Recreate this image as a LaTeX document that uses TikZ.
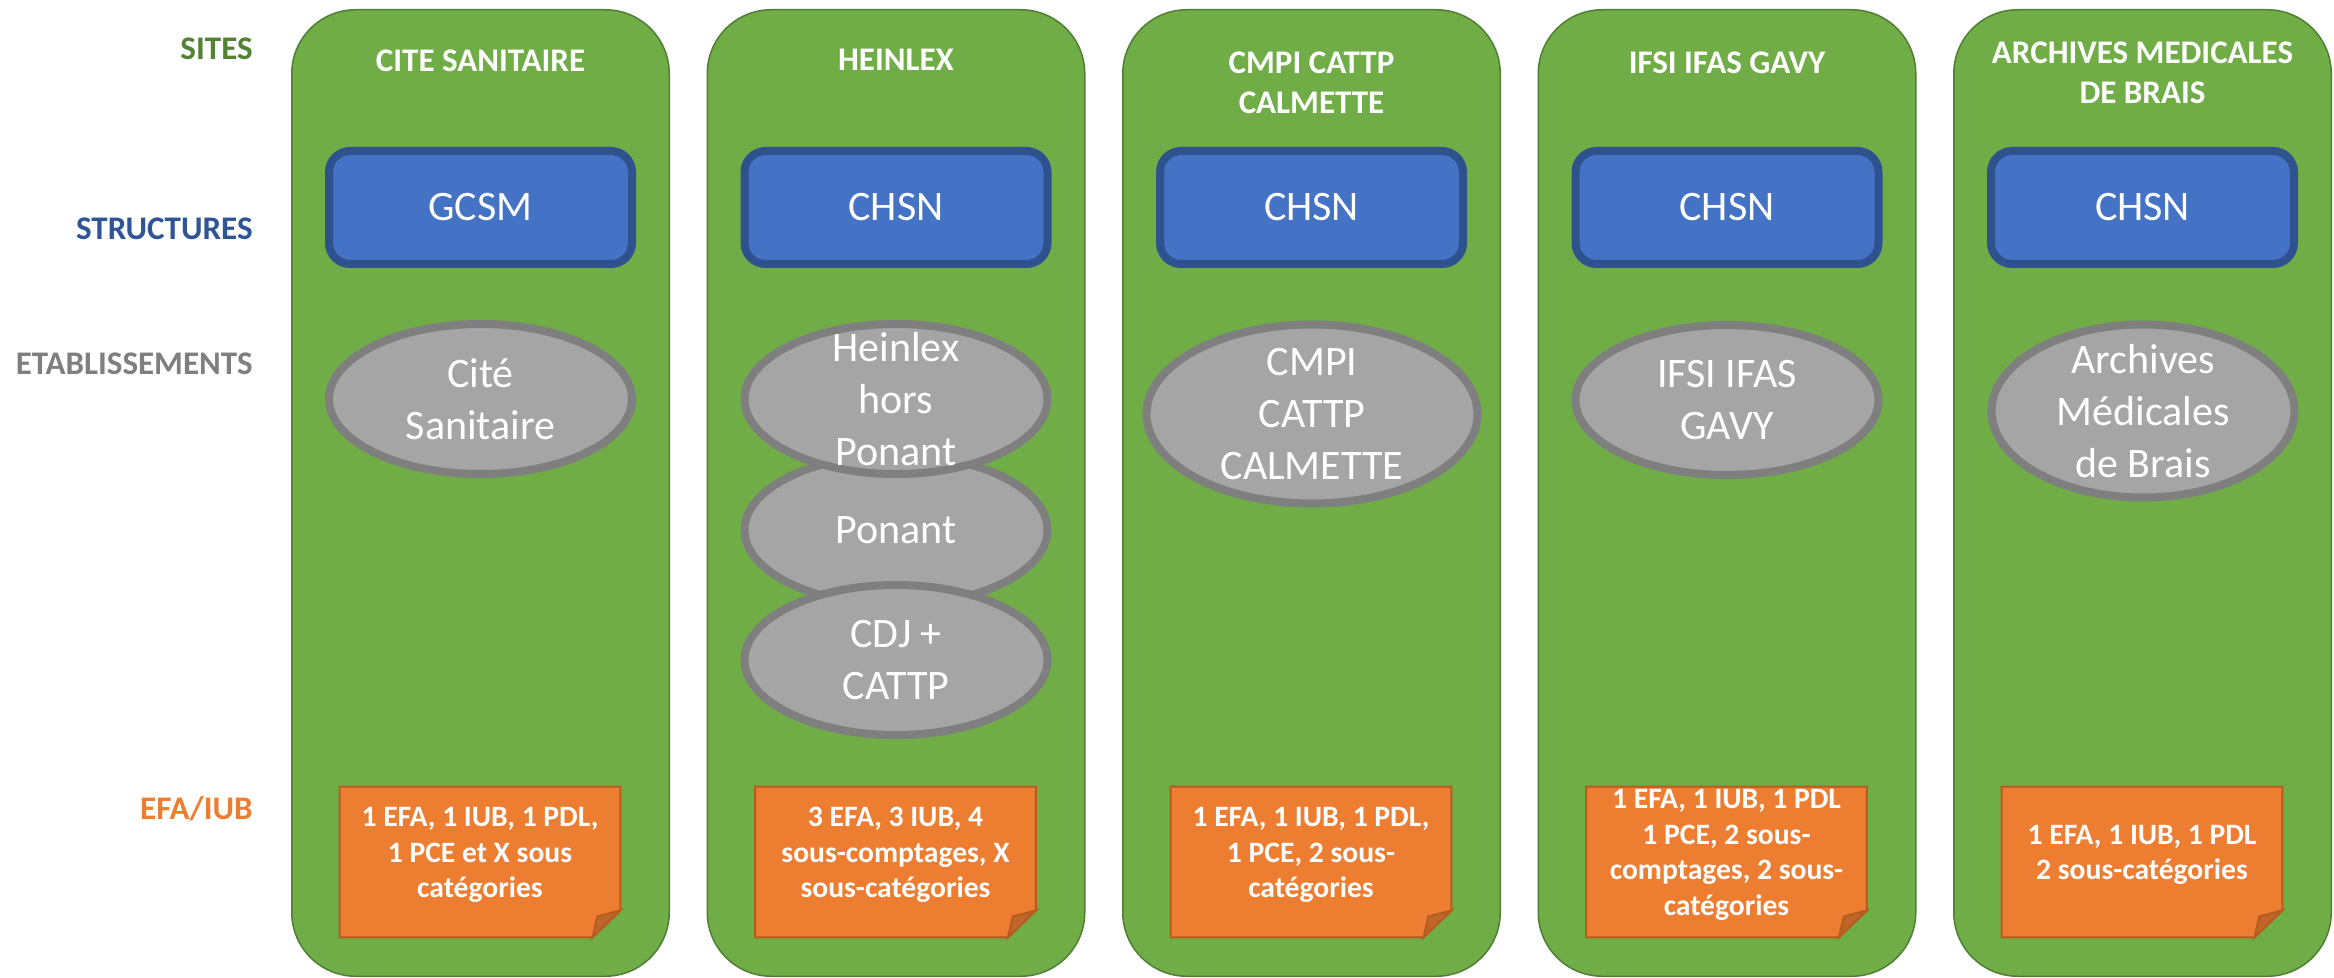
\documentclass[tikz,border=0pt]{standalone}
\usepackage{fontspec}
\setmainfont{Carlito}
\usetikzlibrary{shapes.geometric}

\definecolor{sitegreen}{HTML}{70AD47}
\definecolor{siteline}{HTML}{507E32}
\definecolor{sitelabel}{HTML}{548235}
\definecolor{structblue}{HTML}{4472C4}
\definecolor{structline}{HTML}{2F528F}
\definecolor{structlabel}{HTML}{2F5597}
\definecolor{etabgray}{HTML}{A5A5A5}
\definecolor{etabline}{HTML}{7F7F7F}
\definecolor{efaorange}{HTML}{ED7D31}
\definecolor{efaline}{HTML}{B85B1E}
\definecolor{efafold}{HTML}{C0652A}

\tikzset{
    rowlabel/.style={anchor=base east, inner sep=0pt, font=\fontsize{16.5}{20}\selectfont\bfseries},
    sitecol/.style={fill=sitegreen, draw=siteline, line width=0.75pt, rounded corners=32pt,
        minimum width=188.75pt, minimum height=483.25pt, inner sep=0pt},
    sitetitle/.style={anchor=north, inner sep=0pt, align=center, text=white,
        font=\fontsize{16.5}{20}\selectfont\bfseries},
    structbox/.style={fill=structblue, draw=structline, line width=4pt, rounded corners=10.5pt,
        minimum width=151.5pt, minimum height=56.5pt, text=white, font=\fontsize{21}{26}\selectfont},
    etab/.style={ellipse, fill=etabgray, draw=etabline, line width=4pt,
        minimum width=151.5pt, minimum height=75pt, inner sep=0pt},
    etabtext/.style={align=center, text=white, inner sep=0pt, font=\fontsize{21}{26}\selectfont},
    efabox/.style={minimum width=140pt, minimum height=75pt, inner sep=0pt},
    efanote/.style={fill=efaorange, draw=efaline, line width=1pt, line join=miter},
    efatext/.style={align=center, text=white, inner sep=0pt, font=\fontsize{14.8}{17.75}\selectfont\bfseries},
}

\begin{document}
\begin{tikzpicture}[x=0.5pt, y=-0.5pt]
    \useasboundingbox (0,0) rectangle (2334,978);

    % Row labels
    \node[rowlabel, text=sitelabel] (lsites) at (253,60) {SITES};
    \node[rowlabel, text=structlabel] (lstruct) at (253,240) {STRUCTURES};
    \node[rowlabel, text=etabline] (letab) at (253,375) {ETABLISSEMENTS};
    \node[rowlabel, text=efaorange] (lefa) at (253,819) {EFA/IUB};

    % Columns, structures and EFA/IUB notes
    \foreach \i/\struct/\efa in {
        1/GCSM/{1 EFA, 1 IUB, 1 PDL,\\1 PCE et X sous\\catégories},
        2/CHSN/{3 EFA, 3 IUB, 4\\sous-comptages, X\\sous-catégories},
        3/CHSN/{1 EFA, 1 IUB, 1 PDL,\\1 PCE, 2 sous-\\catégories},
        4/CHSN/{1 EFA, 1 IUB, 1 PDL\\1 PCE, 2 sous-\\comptages, 2 sous-\\catégories},
        5/CHSN/{1 EFA, 1 IUB, 1 PDL\\2 sous-catégories}} {
        \node[sitecol] (col\i) at ({480.5+(\i-1)*415.5},493) {};
        \node[structbox] (s\i) at ({480.5+(\i-1)*415.5},207.5) {\struct};
        \node[efabox] (n\i) at ({480+(\i-1)*415.5},862) {};
        \draw[efanote] (n\i.north west) -- (n\i.north east) -- ([yshift=13.5pt]n\i.south east)
            -- ([xshift=-14pt]n\i.south east) -- (n\i.south west) -- cycle;
        \draw[efanote, fill=efafold] ([xshift=-14pt]n\i.south east) -- ([xshift=-11.5pt,yshift=10.5pt]n\i.south east)
            -- ([yshift=13.5pt]n\i.south east) -- cycle;
        \node[efatext] (t\i) at ([yshift=3.5pt]n\i.center) {\efa};
    }

    % Site titles
    \node[sitetitle] (h1) at (480.5,49) {CITE SANITAIRE};
    \node[sitetitle] (h2) at (896,49) {HEINLEX};
    \node[sitetitle] (h3) at (1311.5,51) {CMPI CATTP\\CALMETTE};
    \node[sitetitle] (h4) at (1727,51) {IFSI IFAS GAVY};
    \node[sitetitle] (h5) at (2142.5,41) {ARCHIVES MEDICALES\\DE BRAIS};

    % Etablissements
    \node[etab] (e1) at (480.5,399) {};
    \node[etab] (e2b) at (896,530) {};
    \node[etab] (e2a) at (896,399) {};
    \node[etab] (e2c) at (896,660) {};
    \node[etab, minimum width=165.5pt, minimum height=89.5pt] (e3) at (1312,414) {};
    \node[etab] (e4) at (1727,400) {};
    \node[etab, minimum height=86.5pt] (e5) at (2143,411) {};

    \node[etabtext] (e1t) at (e1) {Cité\\Sanitaire};
    \node[etabtext] (e2at) at (e2a) {Heinlex\\hors\\Ponant};
    \node[etabtext] (e2bt) at (e2b) {Ponant};
    \node[etabtext] (e2ct) at (e2c) {CDJ +\\CATTP};
    \node[etabtext] (e3t) at (e3) {CMPI\\CATTP\\CALMETTE};
    \node[etabtext] (e4t) at (e4) {IFSI IFAS\\GAVY};
    \node[etabtext] (e5t) at (e5) {Archives\\Médicales\\de Brais};
\end{tikzpicture}
\end{document}
